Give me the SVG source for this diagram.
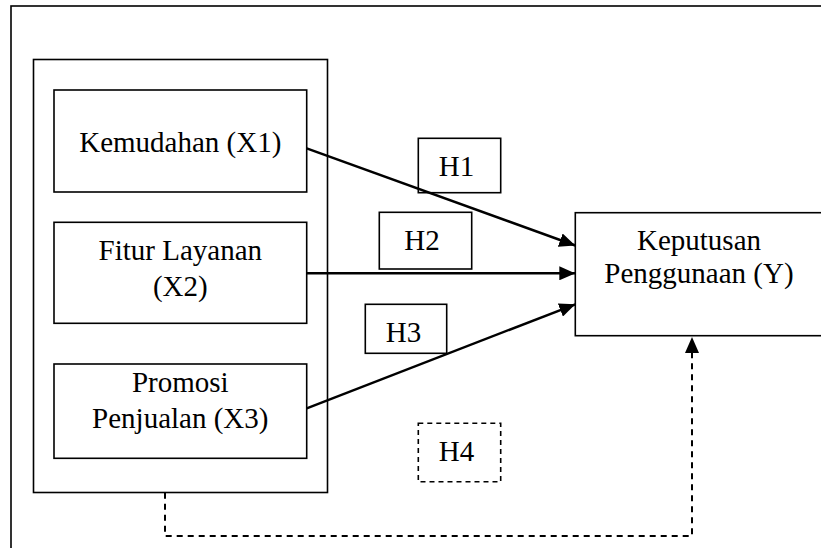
<svg xmlns="http://www.w3.org/2000/svg" width="821" height="548" viewBox="0 0 821 548">
<style>
.box{fill:#fff;stroke:#000;stroke-width:1.6}
.t{font-family:"Liberation Serif","Times New Roman",serif;font-size:29px;fill:#000;text-anchor:middle}
.c{fill:none;stroke:#000;stroke-width:2.4}
.d{fill:none;stroke:#000;stroke-width:2;stroke-dasharray:6 5}
</style>
<defs>
<marker id="ah" viewBox="0 0 16 14" refX="16" refY="7" markerWidth="16" markerHeight="14" markerUnits="userSpaceOnUse" orient="auto">
<path d="M0,0 L16,7 L0,14 z" fill="#000"/>
</marker>
</defs>
<rect x="11" y="6" width="830" height="560" fill="#fff" stroke="#000" stroke-width="1.6"/>
<g id="container">
<rect class="box" x="33.5" y="59.5" width="294" height="433"/>
</g>
<g id="x1">
<rect class="box" x="54" y="90" width="252.7" height="102"/>
<text class="t" x="180.3" y="152.3">Kemudahan (X1)</text>
</g>
<g id="x2">
<rect class="box" x="54" y="222.3" width="252.7" height="101"/>
<text class="t" x="180.3" y="260">Fitur Layanan</text>
<text class="t" x="180.3" y="296">(X2)</text>
</g>
<g id="x3">
<rect class="box" x="54" y="364" width="252.7" height="94.3"/>
<text class="t" x="180.3" y="391.7">Promosi</text>
<text class="t" x="180.3" y="428.3">Penjualan (X3)</text>
</g>
<g id="y">
<rect class="box" x="575.3" y="212.7" width="260" height="123"/>
<text class="t" x="699" y="250">Keputusan</text>
<text class="t" x="699" y="283.3">Penggunaan (Y)</text>
</g>
<g id="h1">
<rect class="box" x="418.3" y="138.3" width="82.4" height="54.4"/>
<text class="t" x="456.5" y="176">H1</text>
</g>
<g id="h2">
<rect class="box" x="379.3" y="212.3" width="92.4" height="56.7"/>
<text class="t" x="422" y="250">H2</text>
</g>
<g id="h3">
<rect class="box" x="365.3" y="304.3" width="81.4" height="49"/>
<text class="t" x="403.5" y="342">H3</text>
</g>
<g id="h4">
<rect class="box" x="418.3" y="423.3" width="82.4" height="58.4" stroke-dasharray="5 4"/>
<text class="t" x="456.5" y="461">H4</text>
</g>
<g id="connectors">
<line class="c" x1="306.7" y1="148.3" x2="575.3" y2="245.5" marker-end="url(#ah)"/>
<line class="c" x1="306.7" y1="273.3" x2="575.3" y2="273.3" marker-end="url(#ah)"/>
<line class="c" x1="306.7" y1="408.3" x2="575.3" y2="304.3" marker-end="url(#ah)"/>
<path class="d" d="M165,492.7 V536 H692 V337" marker-end="url(#ah)"/>
</g>
</svg>
